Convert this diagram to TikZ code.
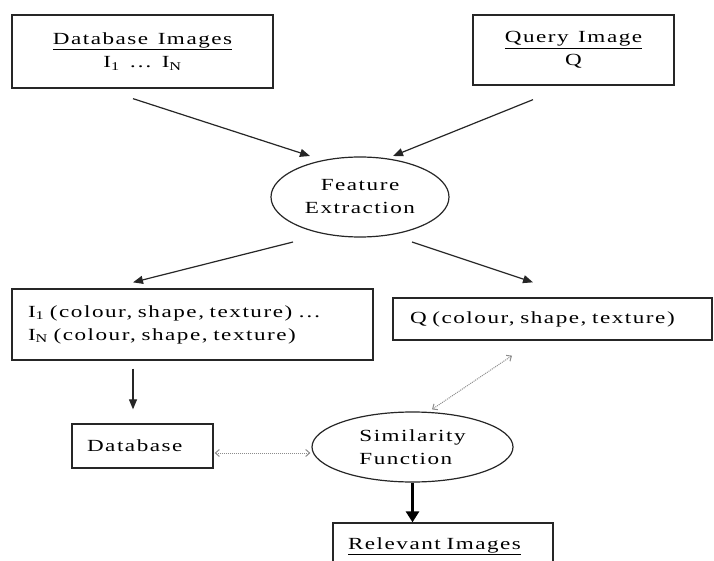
\documentclass[tikz,border=0pt]{standalone}
\usepackage{fontspec}
\setmainfont{Liberation Serif}[FakeStretch=1.36,LetterSpace=9,WordSpace=1.3]
\usetikzlibrary{arrows.meta,shapes.geometric,calc}
\begin{document}
\begin{tikzpicture}[x=1pt,y=-1pt,
  txt/.style={font=\fontsize{17}{23}\selectfont},
  boxn/.style={txt,draw=black!85,line width=1.3pt,rectangle,inner sep=0pt},
  ovaln/.style={txt,draw=black!85,line width=1.2pt,ellipse,inner sep=0pt},
  arr/.style={draw=black!85,line width=1.2pt,-{Triangle[length=10pt,width=8pt]}},
  dotarr/.style={draw=black!45,line width=1pt,dash pattern=on 1pt off 1pt,
    {Straight Barb[length=4pt,width=7pt]}-{Straight Barb[length=4pt,width=7pt]}},
  bigarr/.style={draw=black,line width=3.5pt,-{Triangle[length=11pt,width=13pt]}}]
\fill[white] (0,0) rectangle (714,561);
\useasboundingbox (0,0) rectangle (714,561);
\clip (0,0) rectangle (714,561);

\node[boxn,minimum width=261pt,minimum height=73pt,align=center] (dbimg) at (142.5,51.5)
  {\underline{Database Images}\\I\textsubscript{1} … I\textsubscript{N}};
\node[boxn,minimum width=201pt,minimum height=70pt,align=center] (qimg) at (573.5,50)
  {\underline{Query Image}\\Q};
\node[ovaln,minimum width=178pt,minimum height=80pt,align=center] (fe) at (360,197)
  {Feature\\Extraction};
\node[boxn,minimum width=361pt,minimum height=71pt,text width=329pt,align=left] (ifeat) at (192.5,324.5)
  {I\textsubscript{1} (colour, shape, texture) …\\I\textsubscript{N} (colour, shape, texture)};
\node[boxn,minimum width=319pt,minimum height=42pt,text width=285pt,align=left] (qfeat) at (552.5,319)
  {Q (colour, shape, texture)};
\node[boxn,minimum width=141pt,minimum height=44pt,text width=111pt,align=left] (db) at (142.5,446)
  {Database};
\node[ovaln,minimum width=201pt,minimum height=70pt,align=left] (sim) at (412.5,447)
  {Similarity\\Function};
\node[boxn,minimum width=220pt,minimum height=46pt,text width=190pt,align=left] (rel) at (443,546)
  {\underline{Relevant Images}};

\draw[arr] ($(dbimg.south)+(-9.5,10)$) -- ($(fe.center)+(-50,-41)$);
\draw[arr] ($(qimg.south)+(-40.5,14)$) -- ($(fe.center)+(33,-41)$);
\draw[arr] ($(fe.center)+(-67,45)$) -- ($(ifeat.north)+(-59.5,-6)$);
\draw[arr] ($(fe.center)+(52,45)$) -- ($(qfeat.north)+(-19.5,-15)$);
\draw[arr] ($(ifeat.south)+(-59.5,8)$) -- ($(db.north)+(-9.5,-14)$);
\draw[dotarr] ($(db.east)+(1,7)$) -- ($(sim.west)+(-1,6)$);
\draw[dotarr] ($(qfeat.south)+(-40.5,15)$) -- ($(sim.north)+(19.5,-2)$);
\draw[bigarr] (sim.south) -- (sim.south |- rel.north);
\end{tikzpicture}
\end{document}
